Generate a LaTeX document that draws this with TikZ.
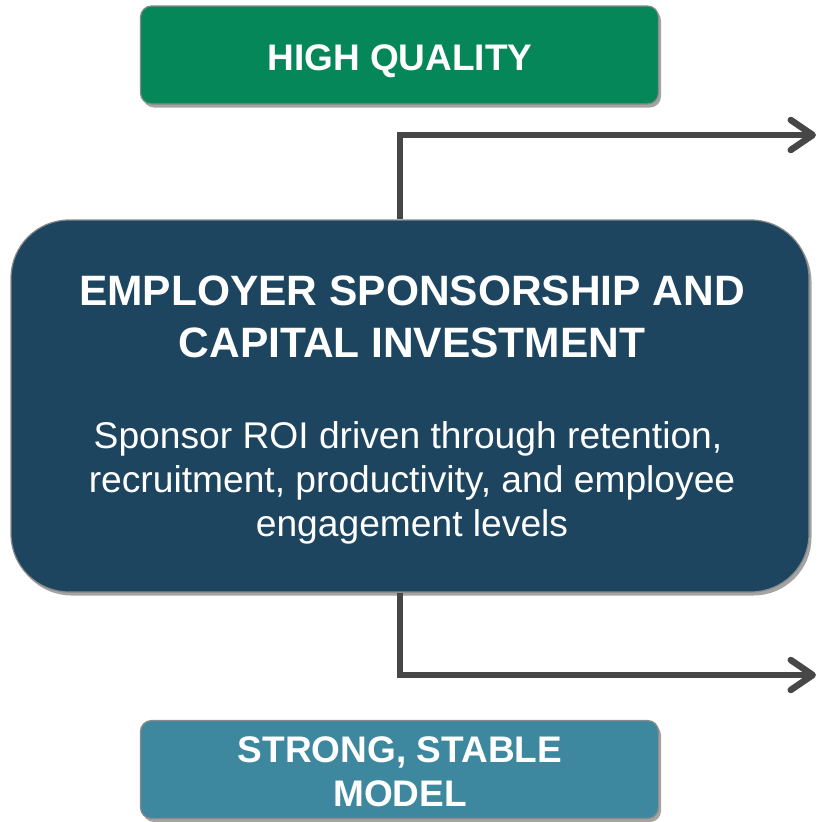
\documentclass[tikz,border=0pt]{standalone}
\usepackage{fontspec}
\setmainfont{Liberation Sans}
\usetikzlibrary{arrows.meta,shadows}

\definecolor{qualgreen}{HTML}{05875A}
\definecolor{corenavy}{HTML}{1D4560}
\definecolor{modelteal}{HTML}{3D889F}
\definecolor{framegray}{HTML}{8A8A8A}
\definecolor{shadowgray}{HTML}{A4A4A4}
\definecolor{flowgray}{HTML}{474747}

\tikzset{
  card/.style={draw=framegray, line width=1.2pt,
    drop shadow={shadow xshift=2.5pt, shadow yshift=-3.5pt, fill=shadowgray, opacity=1}},
  smallcard/.style={card, rounded corners=11pt, minimum width=518pt, minimum height=98pt, inner sep=0pt},
  bigcard/.style={card, rounded corners=58pt, minimum width=798pt, minimum height=372pt, inner sep=0pt},
  headline/.style={text=white, inner sep=0pt, anchor=base, font=\fontsize{37}{44}\selectfont\bfseries},
  coretitle/.style={text=white, inner sep=0pt, anchor=base, font=\fontsize{42.5}{50}\selectfont\bfseries},
  corebody/.style={text=white, inner sep=0pt, anchor=base, font=\fontsize{37.2}{44}\selectfont},
  flow/.style={draw=flowgray, line width=6.5pt, line join=miter,
    -{Straight Barb[length=22pt, width=30pt, line cap=round, round]}}
}

\begin{document}
\begin{tikzpicture}[x=1pt, y=-1pt]
  \useasboundingbox (0,0) rectangle (819,822);

  % boxes
  \node[smallcard, fill=qualgreen] (quality) at (399.5,55) {};
  \node[bigcard, fill=corenavy] (core) at (410,406) {};
  \node[smallcard, fill=modelteal] (model) at (399.5,769.5) {};

  % box texts
  \node[headline] (qualitytext) at (400,70) {HIGH QUALITY};
  \node[coretitle] (title1) at (412,305) {EMPLOYER SPONSORSHIP AND};
  \node[coretitle] (title2) at (412,357) {CAPITAL INVESTMENT};
  \node[corebody] (body1) at (408,448) {Sponsor ROI driven through retention,};
  \node[corebody] (body2) at (412,492) {recruitment, productivity, and employee};
  \node[corebody] (body3) at (412,536) {engagement levels};
  \node[headline] (modeltext1) at (400,762) {STRONG, STABLE};
  \node[headline] (modeltext2) at (400,806) {MODEL};

  % connectors leaving the core box
  \coordinate (stem) at (400,0);
  \coordinate (upend) at (816,135);
  \coordinate (downend) at (816,675);
  \draw[flow] (core.north -| stem) |- (upend);
  \draw[flow] (core.south -| stem) |- (downend);
\end{tikzpicture}
\end{document}
